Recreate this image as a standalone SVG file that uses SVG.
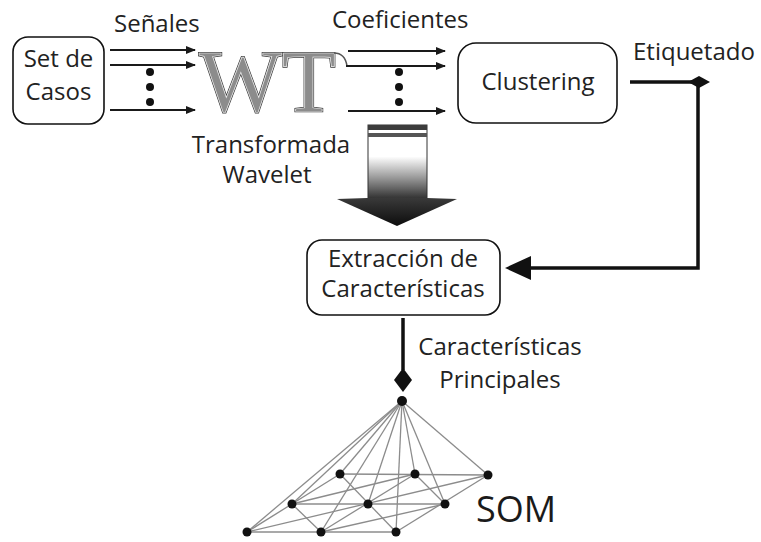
<svg xmlns="http://www.w3.org/2000/svg" width="761" height="542" viewBox="0 0 761 542">
  <defs>
    <style>
      .lbl { font-family: "Open Sans", "Liberation Sans", sans-serif; font-size: 24px; fill: #222222; }
      .box { fill: #ffffff; stroke: #111111; stroke-width: 1.6; }
      .thin { stroke: #1a1a1a; stroke-width: 2; fill: none; }
      .thick { stroke: #111111; stroke-width: 3.5; fill: none; }
      .mesh { stroke: #8c8c8c; stroke-width: 1.3; fill: none; }
      .neuron { fill: #111111; }
      .wt { font-family: "Liberation Serif", serif; font-size: 88px; }
    </style>
    <marker id="ah" viewBox="0 0 10 8" refX="9" refY="4" markerWidth="10" markerHeight="8" markerUnits="userSpaceOnUse" orient="auto">
      <path d="M0,0 L10,4 L0,8 Z" fill="#1a1a1a"/>
    </marker>
    <linearGradient id="shaftGrad" x1="0" y1="0" x2="0" y2="1">
      <stop offset="0" stop-color="#ffffff"/>
      <stop offset="0.42" stop-color="#ffffff"/>
      <stop offset="0.7" stop-color="#9a9a9a"/>
      <stop offset="1" stop-color="#2a2a2a"/>
    </linearGradient>
    <linearGradient id="headGrad" x1="0" y1="0" x2="0" y2="1">
      <stop offset="0" stop-color="#3a3a3a"/>
      <stop offset="1" stop-color="#0d0d0d"/>
    </linearGradient>
  </defs>

  <rect width="761" height="542" fill="#ffffff"/>

  <!-- input cases -->
  <g id="set-de-casos">
    <rect class="box" x="13" y="37" width="91" height="87" rx="15"/>
    <text class="lbl" x="58.5" y="67" text-anchor="middle">Set de</text>
    <text class="lbl" x="58.5" y="100" text-anchor="middle">Casos</text>
  </g>

  <!-- wavelet transform block -->
  <g id="wt">
    <text class="wt" x="199" y="111" fill="none" stroke="#3a3a3a" stroke-width="2.2">WT</text>
    <text class="wt" x="199" y="111" fill="#8c8c8c" stroke="#f0f0f0" stroke-width="0.7">WT</text>
    <path d="M334,53 Q345,53 347,66" fill="none" stroke="#555555" stroke-width="1.5"/>
    <text class="lbl" x="271" y="153" text-anchor="middle">Transformada</text>
    <text class="lbl" x="267" y="183" text-anchor="middle">Wavelet</text>
  </g>

  <g id="clustering">
    <rect class="box" x="458" y="43" width="159" height="80" rx="18"/>
    <text class="lbl" x="538" y="90" text-anchor="middle">Clustering</text>
  </g>

  <g id="extraccion">
    <rect class="box" x="307" y="240" width="193" height="75" rx="15"/>
    <text class="lbl" x="403" y="267" text-anchor="middle">Extracción de</text>
    <text class="lbl" x="403" y="297" text-anchor="middle">Características</text>
  </g>

  <!-- self-organising map -->
  <g id="som">
    <g class="mesh">
      <!-- apex to every map unit -->
      <line x1="402" y1="401" x2="340" y2="474"/>
      <line x1="402" y1="401" x2="415" y2="474"/>
      <line x1="402" y1="401" x2="488" y2="475"/>
      <line x1="402" y1="401" x2="292" y2="504"/>
      <line x1="402" y1="401" x2="368" y2="504"/>
      <line x1="402" y1="401" x2="445" y2="504"/>
      <line x1="402" y1="401" x2="247" y2="532"/>
      <line x1="402" y1="401" x2="321" y2="532"/>
      <line x1="402" y1="401" x2="396" y2="532"/>
      <!-- rows -->
      <line x1="340" y1="474" x2="488" y2="475"/>
      <line x1="292" y1="504" x2="445" y2="504"/>
      <line x1="247" y1="532" x2="396" y2="532"/>
      <!-- columns -->
      <line x1="340" y1="474" x2="247" y2="532"/>
      <line x1="415" y1="474" x2="321" y2="532"/>
      <line x1="488" y1="475" x2="396" y2="532"/>
      <!-- diagonals -->
      <line x1="247" y1="532" x2="488" y2="475"/>
      <line x1="292" y1="504" x2="415" y2="474"/>
      <line x1="321" y1="532" x2="445" y2="504"/>
      <line x1="340" y1="474" x2="396" y2="532"/>
      <line x1="292" y1="504" x2="321" y2="532"/>
      <line x1="415" y1="474" x2="445" y2="504"/>
    </g>
    <circle class="neuron" cx="402" cy="401" r="5"/>
    <circle class="neuron" cx="340" cy="474" r="4.5"/>
    <circle class="neuron" cx="415" cy="474" r="4.5"/>
    <circle class="neuron" cx="488" cy="475" r="4.5"/>
    <circle class="neuron" cx="292" cy="504" r="4.5"/>
    <circle class="neuron" cx="368" cy="504" r="4.5"/>
    <circle class="neuron" cx="445" cy="504" r="4.5"/>
    <circle class="neuron" cx="247" cy="532" r="4.5"/>
    <circle class="neuron" cx="321" cy="532" r="4.5"/>
    <circle class="neuron" cx="396" cy="532" r="4.5"/>
    <text x="476" y="522" font-family="Open Sans, Liberation Sans, sans-serif" font-size="36" fill="#1a1a1a">SOM</text>
  </g>

  <!-- connectors -->
  <g id="connectors">
    <!-- signals into the transform -->
    <line class="thin" x1="110" y1="50" x2="195" y2="50" marker-end="url(#ah)"/>
    <line class="thin" x1="110" y1="65" x2="195" y2="65" marker-end="url(#ah)"/>
    <line class="thin" x1="110" y1="110" x2="195" y2="110" marker-end="url(#ah)"/>
    <circle cx="150" cy="72" r="4" fill="#111"/>
    <circle cx="150" cy="87" r="4" fill="#111"/>
    <circle cx="150" cy="102" r="4" fill="#111"/>
    <text class="lbl" x="114" y="32">Señales</text>

    <!-- coefficients into clustering -->
    <line class="thin" x1="348" y1="51" x2="445" y2="51" marker-end="url(#ah)"/>
    <line class="thin" x1="346" y1="66" x2="445" y2="66" marker-end="url(#ah)"/>
    <line class="thin" x1="348" y1="111" x2="445" y2="111" marker-end="url(#ah)"/>
    <circle cx="399" cy="72" r="4" fill="#111"/>
    <circle cx="399" cy="87" r="4" fill="#111"/>
    <circle cx="399" cy="102" r="4" fill="#111"/>
    <text class="lbl" x="332" y="28">Coeficientes</text>

    <!-- labelling feedback -->
    <path class="thick" d="M630,82 L698,82 L698,268 L528,268"/>
    <path d="M688,82 L699,76 L710,82 L699,88 Z" fill="#111"/>
    <path d="M505,268 L531,256 L531,280 Z" fill="#111"/>
    <text class="lbl" x="633" y="60">Etiquetado</text>

    <!-- big transform arrow -->
    <rect x="368" y="125" width="59" height="75" fill="url(#shaftGrad)" stroke="#333" stroke-width="1"/>
    <rect x="368" y="125" width="59" height="5" fill="#3c3c3c"/>
    <rect x="368" y="133" width="59" height="4" fill="#555"/>
    <path d="M337,199 Q397,196 457,199 L397,226 Z" fill="url(#headGrad)"/>

    <!-- main features into the map -->
    <line class="thick" x1="403" y1="318" x2="403" y2="370"/>
    <path d="M394,380 L403,368 L412,380 L403,392 Z" fill="#111"/>
    <text class="lbl" x="500" y="355" text-anchor="middle">Características</text>
    <text class="lbl" x="500" y="388" text-anchor="middle">Principales</text>
  </g>
</svg>
